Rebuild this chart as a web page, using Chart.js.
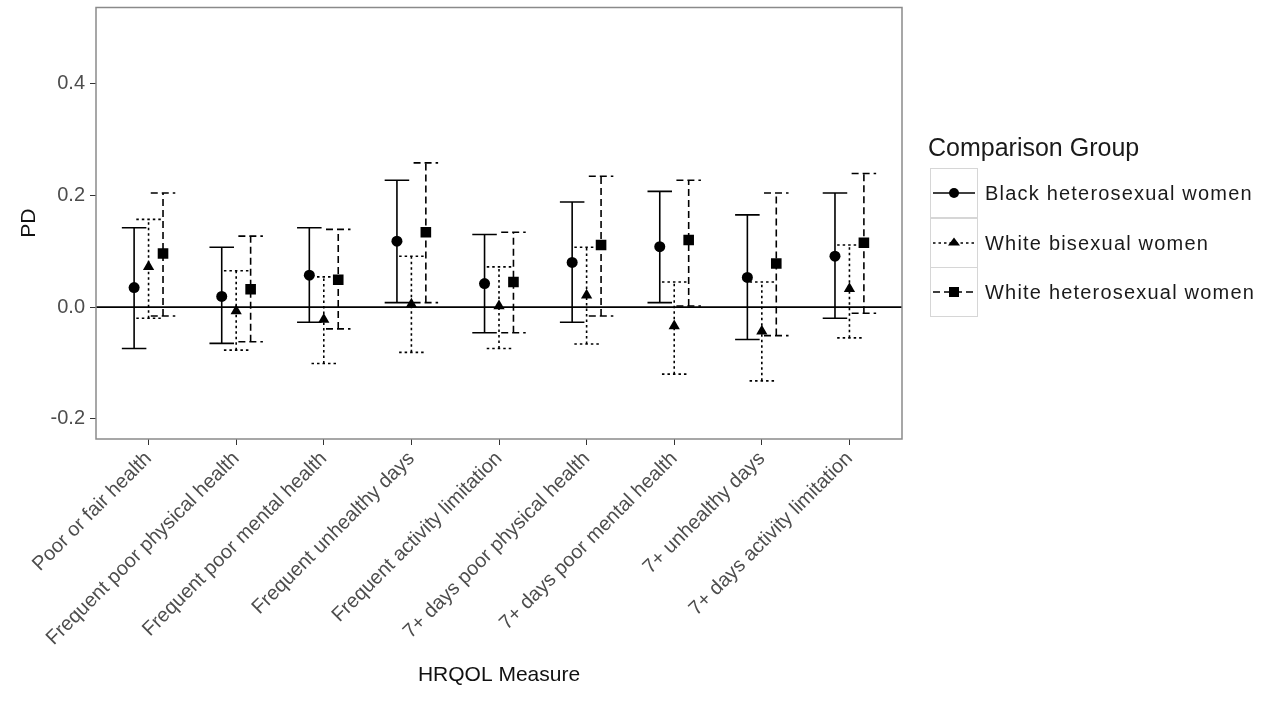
<!DOCTYPE html>
<html>
<head>
<meta charset="utf-8">
<script src="https://cdn.jsdelivr.net/npm/chart.js@4.4.1/dist/chart.umd.min.js"></script>
<style>
  html, body { margin: 0; padding: 0; background: #ffffff; }
  #wrap { position: relative; width: 1270px; height: 715px; overflow: hidden; }
  #chart { position: absolute; left: 0; top: 0; }
  #legend { position: absolute; left: 0; top: 0; font-family: 'Liberation Sans', Arial, sans-serif; color: #1a1a1a; }
  #legend .title { position: absolute; left: 928px; top: 131px; font-size: 25px; line-height: 32px; white-space: nowrap; }
  #legend .key { position: absolute; left: 930px; width: 46px; height: 48px; border: 1px solid #d6d6d6; background: #fff; }
  #legend .key svg { position: absolute; left: 0; top: 0; }
  #legend .lab { position: absolute; left: 985px; font-size: 20px; line-height: 24px; white-space: nowrap; letter-spacing: 1.2px; }
</style>
</head>
<body>
<div id="wrap">
  <canvas id="chart" width="1270" height="715"></canvas>
  <div id="legend"></div>
</div>
<script>
// ---- Data ----
const categories = [
  "Poor or fair health",
  "Frequent poor physical health",
  "Frequent poor mental health",
  "Frequent unhealthy days",
  "Frequent activity limitation",
  "7+ days poor physical health",
  "7+ days poor mental health",
  "7+ unhealthy days",
  "7+ days activity limitation"
];
const seriesNames = ["Black heterosexual women", "White bisexual women", "White heterosexual women"];

const blackEst  = [0.035, 0.019, 0.057, 0.118, 0.042, 0.080, 0.108, 0.053, 0.091];
const blackLow  = [-0.074, -0.065, -0.027, 0.008, -0.046, -0.027, 0.008, -0.058, -0.020];
const blackHigh = [0.142, 0.107, 0.142, 0.227, 0.130, 0.188, 0.207, 0.165, 0.204];

const biEst  = [0.072, -0.007, -0.022, 0.005, 0.002, 0.021, -0.034, -0.043, 0.033];
const biLow  = [-0.020, -0.077, -0.101, -0.081, -0.074, -0.066, -0.120, -0.132, -0.055];
const biHigh = [0.157, 0.065, 0.054, 0.091, 0.072, 0.107, 0.045, 0.045, 0.111];

const whiteEst  = [0.096, 0.032, 0.049, 0.134, 0.045, 0.111, 0.120, 0.078, 0.115];
const whiteLow  = [-0.016, -0.062, -0.039, 0.008, -0.046, -0.016, 0.002, -0.051, -0.011];
const whiteHigh = [0.204, 0.127, 0.139, 0.258, 0.134, 0.234, 0.227, 0.204, 0.239];

const yTicks = [-0.2, 0.0, 0.2, 0.4];
const refLine = [0.0];

// ---- Styles (not data) ----
const FONT = "'Liberation Sans', Arial, sans-serif";
const CAP = 0.14;       // half width of error-bar caps (x units)
const DODGE = 0.165;    // dodge offset between groups (x units)
const styles = [
  { est: blackEst, lo: blackLow, hi: blackHigh, off: -DODGE, point: 'circle',   r: 5.5, dash: [] },
  { est: biEst,    lo: biLow,    hi: biHigh,    off: 0,      point: 'triangle', r: 6.5, dash: [2.5, 3] },
  { est: whiteEst, lo: whiteLow, hi: whiteHigh, off: DODGE,  point: 'rect',     r: 7.5, dash: [7, 4] }
];

const datasets = [];
// reference line at 0
datasets.push({
  label: 'zero', order: 5, showLine: true, pointRadius: 0, borderColor: '#000', borderWidth: 1.6,
  data: [{ x: 0.4, y: refLine[0] }, { x: categories.length + 0.6, y: refLine[0] }]
});
styles.forEach((s, k) => {
  const bars = [], caps = [], pts = [];
  categories.forEach((c, i) => {
    const x = i + 1 + s.off;
    bars.push({ x, y: s.lo[i] }, { x, y: s.hi[i] }, { x, y: null });
    caps.push({ x: x - CAP, y: s.lo[i] }, { x: x + CAP, y: s.lo[i] }, { x, y: null });
    caps.push({ x: x - CAP, y: s.hi[i] }, { x: x + CAP, y: s.hi[i] }, { x, y: null });
    pts.push({ x, y: s.est[i] });
  });
  datasets.push({ label: seriesNames[k] + ' bars', order: 2, showLine: true, spanGaps: false, pointRadius: 0,
    borderColor: '#000', borderWidth: 1.6, borderDash: s.dash, data: bars });
  datasets.push({ label: seriesNames[k] + ' caps', order: 2, showLine: true, spanGaps: false, pointRadius: 0,
    borderColor: '#000', borderWidth: 1.6, borderDash: s.dash, data: caps });
  datasets.push({ label: seriesNames[k], order: 0, showLine: false, pointStyle: s.point, pointRadius: s.r,
    pointBackgroundColor: '#000', pointBorderColor: '#000', pointBorderWidth: 0, data: pts });
});

const panelBorder = {
  id: 'panelBorder',
  afterDraw(chart) {
    const { ctx, chartArea: a } = chart;
    ctx.save();
    ctx.strokeStyle = '#8a8a8a';
    ctx.lineWidth = 1.5;
    ctx.strokeRect(a.left, a.top, a.right - a.left, a.bottom - a.top);
    ctx.restore();
  }
};

new Chart(document.getElementById('chart'), {
  type: 'scatter',
  data: { datasets },
  options: {
    responsive: false,
    animation: false,
    events: [],
    layout: { padding: { left: 0, top: 7, right: 368, bottom: 0 } },
    plugins: { legend: { display: false }, tooltip: { enabled: false } },
    scales: {
      x: {
        type: 'linear', min: 0.4, max: categories.length + 0.6,
        afterBuildTicks: sc => { sc.ticks = categories.map((c, i) => ({ value: i + 1 })); },
        afterFit: sc => { sc.height = 276; sc.paddingLeft = 0; sc.paddingRight = 0; },
        ticks: {
          autoSkip: false, minRotation: 45, maxRotation: 45, padding: 2,
          color: '#4d4d4d', font: { family: FONT, size: 20 },
          callback: v => categories[Math.round(v) - 1]
        },
        grid: { display: true, drawOnChartArea: false, drawTicks: true, tickLength: 6, color: '#333', lineWidth: 1 },
        border: { display: false },
        title: { display: true, text: 'HRQOL Measure', color: '#111', font: { family: FONT, size: 21 }, padding: { top: 0, bottom: 27 } }
      },
      y: {
        type: 'linear', min: -0.236, max: 0.536,
        afterBuildTicks: sc => { sc.ticks = yTicks.map(v => ({ value: v })); },
        afterFit: sc => { sc.width = 96; sc.paddingTop = 0; sc.paddingBottom = 0; },
        ticks: { padding: 5, color: '#4d4d4d', font: { family: FONT, size: 20 }, callback: v => v.toFixed(1) },
        grid: { display: true, drawOnChartArea: false, drawTicks: true, tickLength: 6, color: '#333', lineWidth: 1 },
        border: { display: false },
        title: { display: true, text: 'PD', color: '#111', font: { family: FONT, size: 21 }, padding: { top: 17, bottom: 0 } }
      }
    }
  },
  plugins: [panelBorder]
});

// ---- Legend (HTML) ----
const legend = document.getElementById('legend');
const title = document.createElement('div');
title.className = 'title';
title.textContent = 'Comparison Group';
legend.appendChild(title);
const keyTop = 168, keyStep = 49.5;
function markerSvg(kind) {
  if (kind === 'circle') return '<circle cx="23" cy="24" r="5" fill="#000"/>';
  if (kind === 'triangle') return '<polygon points="23,18.5 29,26.5 17,26.5" fill="#000"/>';
  return '<rect x="18" y="19" width="10" height="10" fill="#000"/>';
}
styles.forEach((s, k) => {
  const key = document.createElement('div');
  key.className = 'key';
  key.style.top = (keyTop + k * keyStep) + 'px';
  const dash = s.dash.length ? ` stroke-dasharray="${s.dash.join(' ')}"` : '';
  key.innerHTML = `<svg width="46" height="48"><line x1="2" y1="24" x2="44" y2="24" stroke="#000" stroke-width="1.6"${dash}/>${markerSvg(s.point)}</svg>`;
  legend.appendChild(key);
  const lab = document.createElement('div');
  lab.className = 'lab';
  lab.style.top = (keyTop + k * keyStep + 13) + 'px';
  lab.textContent = seriesNames[k];
  legend.appendChild(lab);
});
</script>
</body>
</html>
